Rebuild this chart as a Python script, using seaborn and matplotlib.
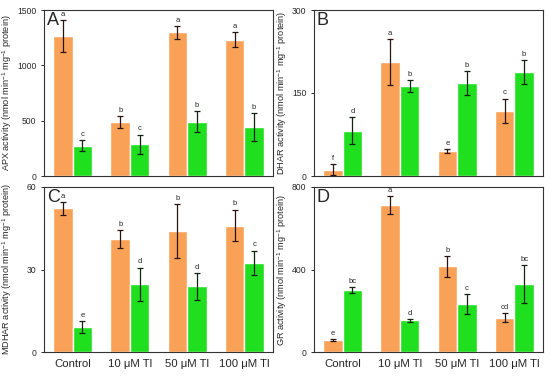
import matplotlib
matplotlib.use("Agg")
import matplotlib.pyplot as plt
import seaborn as sns
import pandas as pd

# treatments on the x axis
treatments = ["Control", "10 μM Tl", "50 μM Tl", "100 μM Tl"]
series = ["series_1", "series_2"]

# APX
apx_1 = [1262, 487, 1298, 1230]
apx_1_err = [146, 52, 57, 68]
apx_2 = [272, 287, 492, 444]
apx_2_err = [50, 88, 94, 125]
apx_lab_1 = ["a", "b", "a", "a"]
apx_lab_2 = ["c", "c", "b", "b"]

# DHAR
dhar_1 = [11, 206, 45, 118]
dhar_1_err = [10, 41, 4, 22]
dhar_2 = [82, 162, 168, 188]
dhar_2_err = [24, 11, 22, 22]
dhar_lab_1 = ["f", "a", "e", "c"]
dhar_lab_2 = ["d", "b", "b", "b"]

# MDHAR
mdhar_1 = [52.2, 41.0, 44.0, 46.0]
mdhar_1_err = [2.4, 3.2, 9.7, 5.8]
mdhar_2 = [9.1, 24.7, 23.9, 32.5]
mdhar_2_err = [2.1, 6.0, 4.9, 4.4]
mdhar_lab_1 = ["a", "b", "b", "b"]
mdhar_lab_2 = ["e", "d", "d", "c"]

# GR
gr_1 = [58, 714, 415, 167]
gr_1_err = [3, 43, 49, 22]
gr_2 = [300, 154, 232, 328]
gr_2_err = [14, 8, 50, 92]
gr_lab_1 = ["e", "a", "b", "cd"]
gr_lab_2 = ["bc", "d", "c", "bc"]

colors = ["#F9A257", "#1FDF1F"]
err_colors = ["#2a1410", "#102410"]

sns.set_style("ticks")
plt.rcParams["font.family"] = ["Liberation Sans", "DejaVu Sans"]
plt.rcParams["mathtext.fontset"] = "custom"
plt.rcParams["mathtext.rm"] = "Liberation Sans"
plt.rcParams["mathtext.it"] = "Liberation Sans:italic"
plt.rcParams["mathtext.default"] = "regular"

fig = plt.figure(figsize=(5.5, 3.77), dpi=100)
W, H = 550, 377


def add_axes(l, t, r, b):
    return fig.add_axes([l / W, 1 - b / H, (r - l) / W, (b - t) / H])


panels = [
    ("A", "APX", apx_1, apx_1_err, apx_2, apx_2_err, apx_lab_1, apx_lab_2,
     1500, [0, 500, 1000, 1500], (44, 10, 273, 176)),
    ("B", "DHAR", dhar_1, dhar_1_err, dhar_2, dhar_2_err, dhar_lab_1, dhar_lab_2,
     300, [0, 150, 300], (314, 10, 543, 176)),
    ("C", "MDHAR", mdhar_1, mdhar_1_err, mdhar_2, mdhar_2_err, mdhar_lab_1, mdhar_lab_2,
     60, [0, 30, 60], (44, 187, 273, 352)),
    ("D", "GR", gr_1, gr_1_err, gr_2, gr_2_err, gr_lab_1, gr_lab_2,
     800, [0, 400, 800], (314, 187, 543, 352)),
]

for letter, name, v1, e1, v2, e2, l1, l2, ymax, yticks, box in panels:
    ax = add_axes(*box)
    df = pd.DataFrame({
        "treatment": treatments * 2,
        "series": [series[0]] * 4 + [series[1]] * 4,
        "value": v1 + v2,
    })
    sns.barplot(data=df, x="treatment", y="value", hue="series",
                order=treatments, hue_order=series, palette=colors,
                width=0.68, saturation=1, errorbar=None, legend=False, ax=ax)
    for cont, vals, errs, labs, ec in zip(ax.containers, [v1, v2], [e1, e2],
                                          [l1, l2], err_colors):
        xs = [p.get_x() + p.get_width() / 2 for p in cont]
        ax.errorbar(xs, vals, yerr=errs, fmt="none", ecolor=ec,
                    elinewidth=0.9, capsize=2.2, capthick=0.9, zorder=3)
        for x, v, e, s in zip(xs, vals, errs, labs):
            ax.annotate(s, (x, v + e), xytext=(0, 1.5), textcoords="offset points",
                        ha="center", va="bottom", fontsize=5.5)
    ax.set_ylim(0, ymax)
    ax.set_yticks(yticks)
    ax.set_xlim(-0.5, 3.5)
    ax.set_xlabel("")
    ax.set_ylabel(name + " activity (nmol min$^{-1}$ mg$^{-1}$ protein)", fontsize=6.6)
    if letter in ("A", "C"):
        ax.yaxis.set_label_coords(-0.132, 0.5)
    else:
        ax.yaxis.set_label_coords(-0.107, 0.5)
    ax.tick_params(axis="y", labelsize=6.2, length=2.5, width=0.7, pad=3)
    ax.tick_params(axis="x", labelsize=8.2, length=0, pad=5)
    if letter in ("A", "B"):
        ax.set_xticklabels([])
    for sp in ax.spines.values():
        sp.set_visible(True)
        sp.set_linewidth(0.8)
        sp.set_color("#333333")
    ax.text(0.012, 0.99, letter, transform=ax.transAxes, ha="left", va="top",
            fontsize=13)

fig.savefig("out.png", dpi=100)
